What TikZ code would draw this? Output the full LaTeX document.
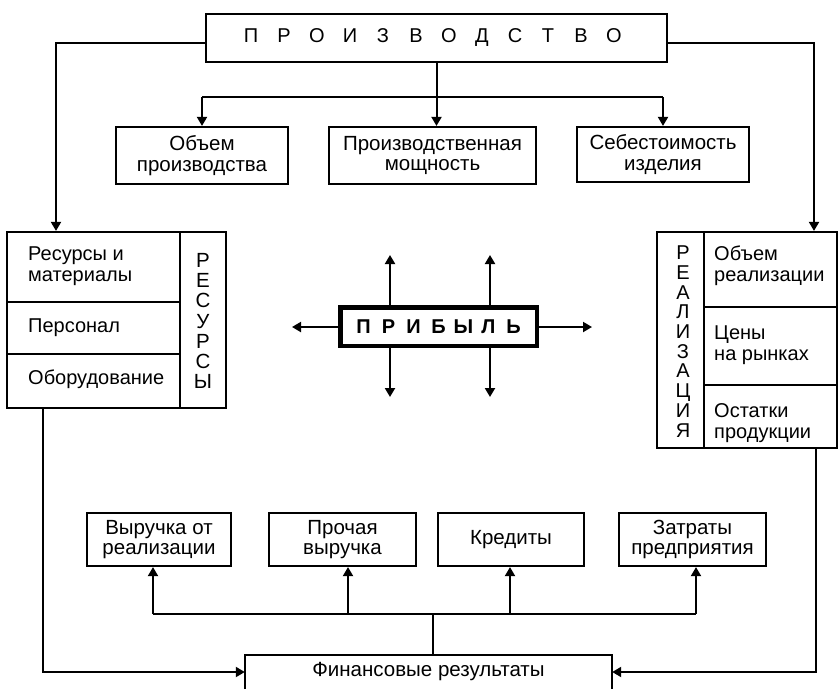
\documentclass[tikz,border=0pt]{standalone}
\usepackage{fontspec}
\setmainfont{Liberation Sans}
\usetikzlibrary{arrows.meta}

% one letter of a spaced-out heading, in a box of fixed width
\newcommand\prodlt[1]{\makebox[33pt]{#1}}
\newcommand\proflt[1]{\makebox[25pt]{#1}}

\begin{document}
\begin{tikzpicture}[x=1pt, y=-1pt,
  box/.style={draw, line width=2.2pt, inner sep=0pt, align=center,
    font=\fontsize{20.5}{20.5}\selectfont},
  cell/.style={draw, line width=2.2pt, inner sep=0pt},
  lbl/.style={inner sep=0pt, align=left, anchor=west,
    font=\fontsize{20}{21}\selectfont},
  vlbl/.style={inner sep=0pt, align=center},
  conn/.style={line width=2pt},
  arr/.style={conn, -{Triangle[length=9pt,width=10pt]}},
]
\useasboundingbox (0,0) rectangle (840,689);

% --- production and its three indicators ---
\node[box, minimum width=461pt, minimum height=48pt] (prod) at (436.5,38)
  {\fontsize{20}{20}\selectfont\prodlt{П}\prodlt{Р}\prodlt{О}\prodlt{И}\prodlt{З}\prodlt{В}\prodlt{О}\prodlt{Д}\prodlt{С}\prodlt{Т}\prodlt{В}\prodlt{О}\hspace*{8pt}};
\node[box, minimum width=172pt, minimum height=57pt] (vol)  at (202,155.5) {Объем\\производства};
\node[box, minimum width=207pt, minimum height=57pt] (pcap) at (432.5,155.5) {Производственная\\мощность};
\node[box, minimum width=172pt, minimum height=55pt] (cost) at (663,154.5) {Себестоимость\\изделия};

\coordinate (topbus) at (0,97);
\draw[conn] (prod.south) -- (prod.south |- topbus);
\draw[conn] (vol.north |- topbus) -- (cost.north |- topbus);
\draw[arr] (vol.north |- topbus) -- (vol.north);
\draw[arr] (prod.south |- topbus) -- (prod.south |- pcap.north);
\draw[arr] (cost.north |- topbus) -- (cost.north);

% --- resources block ---
\node[cell, minimum width=173pt, minimum height=70pt] (res1) at (93.5,267) {};
\node[cell, minimum width=173pt, minimum height=52pt] (res2) at (93.5,328) {};
\node[cell, minimum width=173pt, minimum height=54pt] (res3) at (93.5,381) {};
\node[cell, minimum width=46pt, minimum height=176pt] (resv) at (203,320) {};
\node[vlbl, font=\fontsize{20.5}{20.3}\selectfont] (resvt) at (203,321)
  {Р\\Е\\С\\У\\Р\\С\\Ы};
\node[lbl] (res1t) at (28,266) {Ресурсы и\\материалы};
\node[lbl] (res2t) at (28,328) {Персонал};
\node[lbl] (res3t) at (28,379) {Оборудование};

% --- sales block ---
\node[cell, minimum width=47pt, minimum height=216pt] (realv) at (680.5,340) {};
\node[cell, minimum width=133pt, minimum height=75pt] (real1) at (770.5,269.5) {};
\node[cell, minimum width=133pt, minimum height=78pt] (real2) at (770.5,346) {};
\node[cell, minimum width=133pt, minimum height=63pt] (real3) at (770.5,416.5) {};
\node[vlbl, font=\fontsize{20}{19.7}\selectfont] (realvt) at (683,341.5)
  {Р\\Е\\А\\Л\\И\\З\\А\\Ц\\И\\Я};
\node[lbl] (real1t) at (714,266) {Объем\\реализации};
\node[lbl] (real2t) at (714,345) {Цены\\на рынках};
\node[lbl] (real3t) at (714,423) {Остатки\\продукции};

% --- profit in the centre ---
\node[draw, line width=4.5pt, inner sep=0pt, minimum width=196.5pt, minimum height=38.5pt,
  font=\fontsize{20}{20}\selectfont\bfseries] (profit) at (438.5,326.5)
  {\proflt{П}\proflt{Р}\proflt{И}\proflt{Б}\proflt{Ы}\proflt{Л}\proflt{Ь}};
\coordinate (pu1) at (390,255);
\coordinate (pu2) at (490,255);
\coordinate (pd1) at (390,397);
\coordinate (pd2) at (490,397);
\coordinate (pl) at (292,327);
\coordinate (pr) at (592,327);
\draw[arr] (profit.north -| pu1) -- (pu1);
\draw[arr] (profit.north -| pu2) -- (pu2);
\draw[arr] (profit.south -| pd1) -- (pd1);
\draw[arr] (profit.south -| pd2) -- (pd2);
\draw[arr] (profit.west |- pl) -- (pl);
\draw[arr] (profit.east |- pr) -- (pr);

% --- financial results and its four components ---
\node[inner sep=0pt, minimum width=367pt, minimum height=34pt,
  font=\fontsize{20.5}{20.5}\selectfont] (fin) at (428.5,672) {Финансовые результаты};
\draw[line width=2.2pt] (fin.south west) -- (fin.north west) -- (fin.north east) -- (fin.south east);

\node[box, minimum width=144pt, minimum height=53pt] (rev)  at (159,539.5) {Выручка от\\реализации};
\node[box, minimum width=147pt, minimum height=53pt] (oth)  at (342.5,539.5) {Прочая\\выручка};
\node[box, minimum width=146pt, minimum height=53pt] (cred) at (511,539.5) {Кредиты};
\node[box, minimum width=147pt, minimum height=53pt] (exp)  at (692.5,539.5) {Затраты\\предприятия};

\coordinate (botbus) at (0,614);
\coordinate (b1) at ([xshift=-6pt]rev.south);
\coordinate (b2) at ([xshift=5.5pt]oth.south);
\coordinate (b3) at ([xshift=-1pt]cred.south);
\coordinate (b4) at ([xshift=3.5pt]exp.south);
\coordinate (fintop) at ([xshift=4.5pt]fin.north);
\draw[conn] (fintop) -- (fintop |- botbus);
\draw[conn] (b1 |- botbus) -- (b4 |- botbus);
\draw[arr] (b1 |- botbus) -- (b1);
\draw[arr] (b2 |- botbus) -- (b2);
\draw[arr] (b3 |- botbus) -- (b3);
\draw[arr] (b4 |- botbus) -- (b4);

% --- outer loops ---
\draw[arr] ([yshift=-5pt]prod.west) -| ([xshift=-37.5pt]res1.north);
\draw[arr] ([yshift=-5pt]prod.east) -| ([xshift=43.5pt]real1.north);
\draw[arr] ([xshift=-50.5pt]res3.south) |- (fin.west);
\draw[arr] ([xshift=45.5pt]real3.south) |- (fin.east);
\end{tikzpicture}
\end{document}
